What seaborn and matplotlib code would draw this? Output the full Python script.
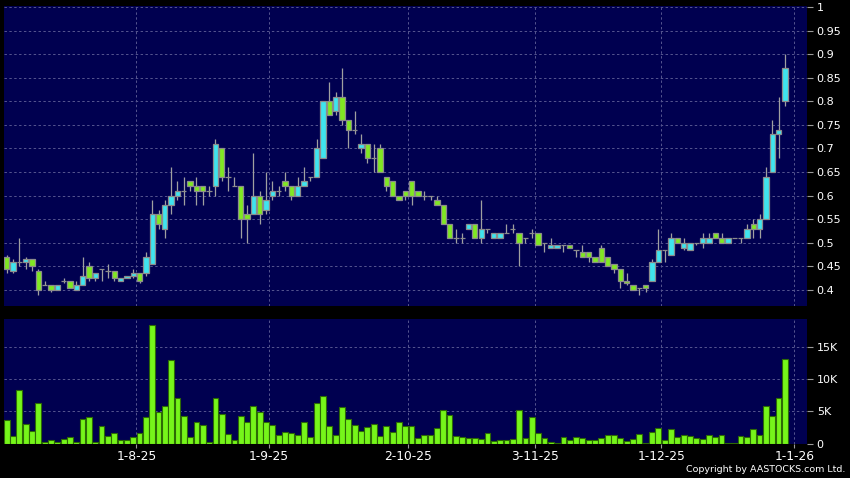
import numpy as np
import pandas as pd
import matplotlib
matplotlib.use('Agg')
import matplotlib.pyplot as plt
import seaborn as sns

# daily OHLC (Jul-4-2025 .. Dec-31-2025)
opens = [0.47, 0.44, 0.46, 0.46, 0.465, 0.44, 0.41, 0.41, 0.40, 0.42,
         0.42, 0.40, 0.41, 0.45, 0.425, 0.445, 0.44, 0.44, 0.42, 0.425,
         0.43, 0.435, 0.435, 0.455, 0.56, 0.53, 0.58, 0.60, 0.61, 0.63,
         0.62, 0.62, 0.61, 0.62, 0.70, 0.64, 0.62, 0.62, 0.56, 0.56,
         0.60, 0.57, 0.60, 0.61, 0.63, 0.62, 0.60, 0.62, 0.64, 0.64,
         0.68, 0.80, 0.78, 0.81, 0.76, 0.74, 0.70, 0.71, 0.68, 0.70,
         0.64, 0.63, 0.60, 0.61, 0.63, 0.61, 0.60, 0.60, 0.59, 0.58,
         0.54, 0.51, 0.51, 0.53, 0.54, 0.51, 0.53, 0.51, 0.51, 0.52,
         0.53, 0.52, 0.51, 0.52, 0.52, 0.50, 0.49, 0.49, 0.495, 0.495,
         0.485, 0.48, 0.48, 0.47, 0.49, 0.47, 0.455, 0.445, 0.42, 0.41,
         0.405, 0.41, 0.42, 0.46, 0.485, 0.475, 0.51, 0.49, 0.485, 0.50,
         0.50, 0.50, 0.52, 0.51, 0.50, 0.51, 0.51, 0.51, 0.54, 0.53,
         0.55, 0.65, 0.73, 0.80]
highs = [0.475, 0.465, 0.51, 0.47, 0.465, 0.445, 0.42, 0.41, 0.41, 0.425,
         0.42, 0.42, 0.47, 0.46, 0.435, 0.445, 0.455, 0.44, 0.425, 0.43,
         0.445, 0.435, 0.48, 0.59, 0.57, 0.59, 0.66, 0.63, 0.64, 0.63,
         0.64, 0.62, 0.62, 0.72, 0.70, 0.66, 0.64, 0.62, 0.58, 0.69,
         0.61, 0.65, 0.63, 0.62, 0.65, 0.62, 0.64, 0.66, 0.64, 0.72,
         0.80, 0.84, 0.82, 0.87, 0.76, 0.78, 0.73, 0.71, 0.71, 0.71,
         0.64, 0.63, 0.60, 0.61, 0.63, 0.61, 0.61, 0.60, 0.60, 0.58,
         0.54, 0.53, 0.52, 0.54, 0.54, 0.59, 0.53, 0.52, 0.52, 0.54,
         0.54, 0.52, 0.51, 0.53, 0.52, 0.50, 0.51, 0.495, 0.495, 0.495,
         0.485, 0.495, 0.48, 0.47, 0.495, 0.47, 0.455, 0.445, 0.435, 0.41,
         0.405, 0.41, 0.465, 0.53, 0.485, 0.52, 0.51, 0.51, 0.50, 0.50,
         0.52, 0.52, 0.52, 0.52, 0.51, 0.51, 0.51, 0.54, 0.55, 0.56,
         0.66, 0.76, 0.81, 0.90]
lows = [0.435, 0.435, 0.45, 0.445, 0.44, 0.39, 0.41, 0.395, 0.40, 0.415,
        0.405, 0.40, 0.41, 0.42, 0.42, 0.42, 0.425, 0.42, 0.42, 0.425,
        0.425, 0.415, 0.43, 0.455, 0.53, 0.51, 0.56, 0.59, 0.58, 0.61,
        0.58, 0.58, 0.60, 0.60, 0.63, 0.61, 0.62, 0.51, 0.50, 0.56,
        0.54, 0.56, 0.59, 0.60, 0.61, 0.59, 0.60, 0.62, 0.63, 0.64,
        0.68, 0.77, 0.77, 0.75, 0.70, 0.73, 0.69, 0.67, 0.65, 0.65,
        0.61, 0.60, 0.59, 0.59, 0.58, 0.60, 0.59, 0.59, 0.58, 0.54,
        0.51, 0.50, 0.50, 0.53, 0.51, 0.50, 0.52, 0.51, 0.51, 0.52,
        0.52, 0.45, 0.50, 0.51, 0.495, 0.48, 0.49, 0.49, 0.48, 0.49,
        0.47, 0.47, 0.46, 0.46, 0.46, 0.45, 0.435, 0.405, 0.41, 0.40,
        0.39, 0.395, 0.42, 0.46, 0.46, 0.475, 0.50, 0.485, 0.485, 0.495,
        0.49, 0.50, 0.51, 0.50, 0.50, 0.51, 0.50, 0.51, 0.51, 0.51,
        0.55, 0.65, 0.68, 0.79]
closes = [0.445, 0.46, 0.46, 0.465, 0.45, 0.40, 0.41, 0.40, 0.41, 0.42,
          0.405, 0.41, 0.43, 0.425, 0.435, 0.445, 0.44, 0.425, 0.425, 0.43,
          0.435, 0.42, 0.47, 0.56, 0.54, 0.58, 0.60, 0.61, 0.61, 0.62,
          0.61, 0.61, 0.61, 0.71, 0.64, 0.64, 0.62, 0.55, 0.55, 0.60,
          0.56, 0.59, 0.61, 0.61, 0.62, 0.60, 0.62, 0.63, 0.64, 0.70,
          0.80, 0.77, 0.81, 0.76, 0.74, 0.74, 0.71, 0.68, 0.68, 0.65,
          0.62, 0.60, 0.59, 0.60, 0.60, 0.60, 0.60, 0.60, 0.58, 0.54,
          0.51, 0.51, 0.51, 0.54, 0.51, 0.53, 0.53, 0.52, 0.52, 0.52,
          0.53, 0.50, 0.51, 0.52, 0.495, 0.50, 0.495, 0.495, 0.495, 0.49,
          0.485, 0.47, 0.47, 0.46, 0.46, 0.45, 0.445, 0.42, 0.415, 0.40,
          0.405, 0.405, 0.46, 0.485, 0.485, 0.51, 0.50, 0.50, 0.50, 0.50,
          0.51, 0.51, 0.51, 0.50, 0.51, 0.51, 0.51, 0.53, 0.53, 0.55,
          0.64, 0.73, 0.74, 0.87]
# volume in thousands of shares
volume_k = [3.66, 1.2, 8.3, 3.0, 2.0, 6.4, 0.2, 0.5, 0.26, 0.7,
            1.0, 0.26, 3.9, 4.2, 0.26, 2.8, 1.1, 1.6, 0.6, 0.6,
            1.0, 1.6, 4.2, 18.5, 4.9, 5.9, 13.1, 7.1, 4.3, 1.05,
            3.4, 2.9, 0.26, 7.1, 4.55, 1.5, 0.6, 4.3, 3.3, 5.8,
            4.9, 3.35, 2.9, 1.4, 1.8, 1.6, 1.3, 3.4, 1.05, 6.4,
            7.4, 2.8, 1.4, 5.7, 3.8, 2.9, 1.9, 2.5, 3.0, 1.15,
            2.7, 1.8, 3.3, 2.7, 2.7, 0.8, 1.25, 1.3, 2.35, 5.2,
            4.5, 1.15, 1.0, 0.85, 0.9, 0.75, 1.6, 0.35, 0.6, 0.6,
            0.7, 5.3, 0.9, 4.2, 1.6, 0.9, 0.26, 0.15, 1.0, 0.6,
            1.05, 0.8, 0.6, 0.5, 0.8, 1.25, 1.4, 0.8, 0.4, 0.7,
            1.5, 0.1, 1.8, 2.4, 0.6, 2.3, 1.05, 1.4, 1.15, 0.8,
            0.75, 1.4, 1.0, 1.4, 0.15, 0.05, 1.2, 1.0, 2.2, 1.4,
            5.9, 4.3, 7.1, 13.2]

holidays = ['2025-10-01', '2025-10-07', '2025-10-29', '2025-12-25', '2025-12-26']
tick_dates = ['2025-08-01', '2025-09-01', '2025-10-02', '2025-11-03', '2025-12-01', '2026-01-01']
tick_labels = ['1-8-25', '1-9-25', '2-10-25', '3-11-25', '1-12-25', '1-1-26']
price_ticks = [0.4, 0.45, 0.5, 0.55, 0.6, 0.65, 0.7, 0.75, 0.8, 0.85, 0.9, 0.95, 1.0]
vol_ticks = [0, 5, 10, 15]
vol_labels = ['0', '5K', '10K', '15K']

days = pd.bdate_range('2025-07-04', '2025-12-31')
days = days[~days.isin(pd.to_datetime(holidays))]
df = pd.DataFrame({'date': days, 'open': opens, 'high': highs, 'low': lows,
                   'close': closes, 'vol': volume_k})
df['i'] = np.arange(len(df))
tick_pos = days.searchsorted(pd.to_datetime(tick_dates)) + 0.5

sns.set_theme(style='dark')
plt.rcParams['font.family'] = ['DejaVu Sans']

BG = '#000050'
CYAN = '#3FE4EE'
GREEN = '#80E822'
VGREEN = '#76F51A'
GRID = '#55558f'

fig = plt.figure(figsize=(8.5, 4.78), dpi=100, facecolor='black')
ax1 = fig.add_axes([4 / 850, 1 - 306 / 478, 803 / 850, 300 / 478], facecolor=BG)
ax2 = fig.add_axes([4 / 850, 1 - 443.5 / 478, 803 / 850, 124.5 / 478], facecolor=BG)

# candles: cyan = up day, green = down day, grey line = unchanged
body_col = np.where(df['close'] > df['open'], CYAN,
                    np.where(df['close'] < df['open'], GREEN, '#9a9a9a'))
ax1.vlines(df['i'], df['low'], df['high'], color='#a0a0a0', lw=0.9, zorder=2)
ax1.bar(df['i'], (df['close'] - df['open']).abs(), bottom=df[['open', 'close']].min(axis=1),
        width=0.84, color=body_col, edgecolor='#8c8c8c', linewidth=0.9, zorder=3)

# volume
sns.barplot(data=df, x='i', y='vol', native_scale=True, color=VGREEN, saturation=1,
            edgecolor='#2d6a05', linewidth=0.8, width=0.92, errorbar=None, ax=ax2, zorder=3)

for ax in (ax1, ax2):
    ax.set_xlim(-0.42, 126.5)
    ax.set_xticks(tick_pos)
    ax.grid(True, color=GRID, linestyle=(0, (2.5, 2.5)), linewidth=0.7, zorder=1)
    for s in ax.spines.values():
        s.set_visible(False)
    ax.yaxis.tick_right()
    ax.tick_params(axis='y', colors='#9a9a9a', labelcolor='white', length=4, width=0.8,
                   pad=3, labelsize=8, right=True, left=False)
    ax.set_xlabel('')
    ax.set_ylabel('')

ax1.set_ylim(0.366, 1.002)
ax1.set_yticks(price_ticks)
ax1.set_yticklabels([f'{t:g}' for t in price_ticks])
ax1.tick_params(axis='x', bottom=False, labelbottom=False)

ax2.set_ylim(0, 19.45)
ax2.set_yticks(vol_ticks)
ax2.set_yticklabels(vol_labels)
ax2.set_xticklabels(tick_labels)
ax2.tick_params(axis='x', colors='#9a9a9a', labelcolor='white', length=3, width=0.8,
                pad=2, labelsize=8.8, bottom=True)

fig.text(845 / 850, 1 - 470 / 478, 'Copyright by AASTOCKS.com Ltd.', color='white',
         fontsize=6.8, ha='right', va='center')

fig.savefig('out.png', dpi=100, facecolor='black')
